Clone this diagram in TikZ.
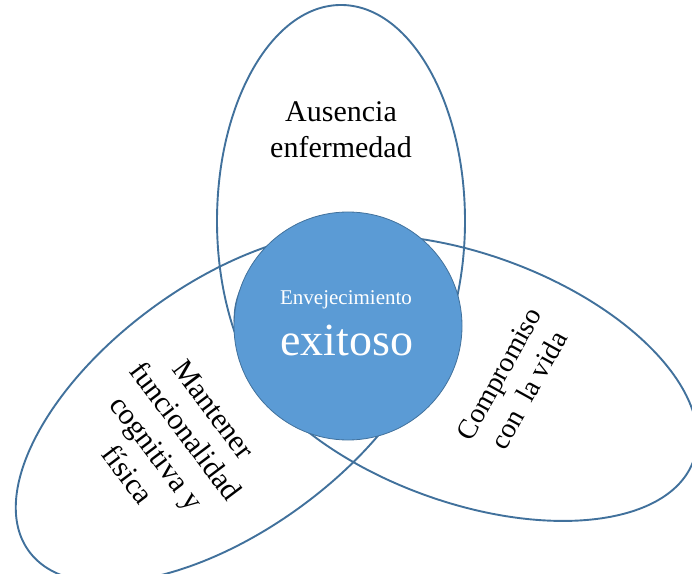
\documentclass[tikz,border=0pt]{standalone}
\usepackage{fontspec}
\setmainfont{Liberation Serif}
\definecolor{borde}{HTML}{41719C}
\definecolor{relleno}{HTML}{5B9BD5}

\begin{document}
\begin{tikzpicture}[x=1pt, y=1pt,
  elipse/.style={draw=borde, line width=1.9pt},
  rotulo/.style={font=\fontsize{30}{36}\selectfont, align=center, inner sep=0pt}]
\useasboundingbox (0,0) rectangle (692,573);
\clip (0,0) rectangle (692,573);

% tres dominios
\draw [elipse] (341,352) ellipse [x radius=124, y radius=216];
\draw [elipse, rotate around={36:(227,166)}] (227,166) ellipse [x radius=245, y radius=124];
\draw [elipse, rotate around={-20:(466,195)}] (466,195) ellipse [x radius=242, y radius=124];

% circulo central
\node [draw = borde, fill = relleno, line width = 0.8pt, shape = circle, minimum size = 228pt, inner sep = 0pt] (centro) at (348, 247) {};
\node [text = white, font = \fontsize{21}{25}\selectfont, anchor = base] (envej) at (346, 268) {Envejecimiento};
\node [text = white, font = \fontsize{46}{50}\selectfont, anchor = base] (exito) at (347, 218) {exitoso};

\node [rotulo] (ausencia) at (341, 443) {Ausencia\\enfermedad};
\node [rotulo, rotate = -53] (mantener) at (171, 131) {Mantener\\funcionalidad\\cognitiva y\\física};
\node [rotulo, font = \fontsize{28}{34}\selectfont, rotate = 61] (compromiso) at (514, 191) {Compromiso\\con\ \ la vida};

\end{tikzpicture}
\end{document}
